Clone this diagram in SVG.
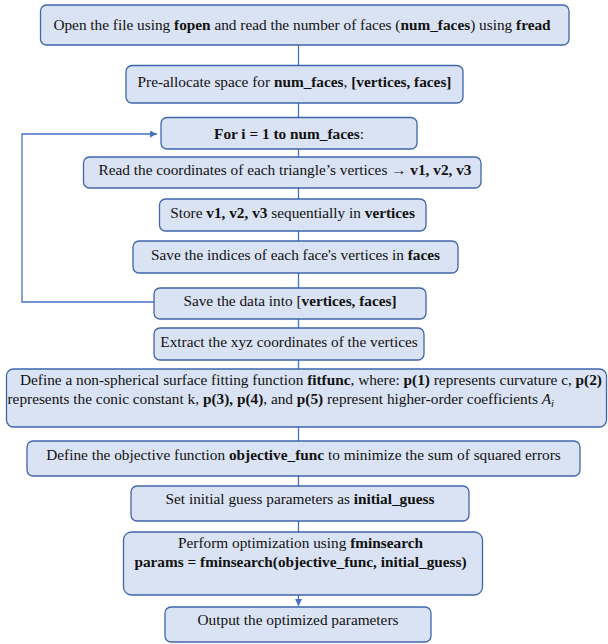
<svg xmlns="http://www.w3.org/2000/svg" width="608" height="644" viewBox="0 0 608 644">
<defs>
<style>
.box{fill:#dae3f3;stroke:#3f66ad;stroke-width:1.3}
.t{font-family:"Liberation Serif","Times New Roman",serif;font-size:15.3px;fill:#111}
.c{text-anchor:middle}
.b{font-weight:bold}
.i{font-style:italic}
.ln{fill:none;stroke:#4472c4;stroke-width:1.3}
</style>
<marker id="ah" viewBox="0 0 10 10" refX="10" refY="5" markerWidth="7" markerHeight="7" markerUnits="userSpaceOnUse" orient="auto">
<path d="M0,0 L10,5 L0,10 z" fill="#4472c4"/>
</marker>
</defs>
<rect width="608" height="644" fill="#ffffff"/>
<g id="connectors">
<path class="ln" d="M298.5,45 V65.5"/>
<path class="ln" d="M298.5,103 V117.5"/>
<path class="ln" d="M298.5,149 V157"/>
<path class="ln" d="M298.5,188 V199"/>
<path class="ln" d="M298.5,231 V241"/>
<path class="ln" d="M298.5,273 V288"/>
<path class="ln" d="M298.5,319 V328"/>
<path class="ln" d="M298.5,360 V369"/>
<path class="ln" d="M298.5,427 V441"/>
<path class="ln" d="M298.5,476 V486"/>
<path class="ln" d="M298.5,521 V532"/>
<path class="ln" d="M298.5,595 V606" marker-end="url(#ah)"/>
<path class="ln" d="M154,302 H22 V134 H157" marker-end="url(#ah)"/>
</g>
<g id="n1"><rect class="box" x="40.5" y="5" width="528.5" height="40" rx="6"/>
<text class="t c" x="302" y="29.5">Open the file using <tspan class="b">fopen</tspan> and read the number of faces (<tspan class="b">num_faces</tspan>) using <tspan class="b">fread</tspan></text></g>
<g id="n2"><rect class="box" x="126" y="65.5" width="337" height="37.5" rx="6"/>
<text class="t c" x="294.5" y="87">Pre-allocate space for <tspan class="b">num_faces</tspan>, <tspan class="b">[vertices, faces]</tspan></text></g>
<g id="n3"><rect class="box" x="161" y="117.5" width="256" height="31.5" rx="6"/>
<text class="t c" x="289" y="139"><tspan class="b">For i = 1 to num_faces</tspan>:</text></g>
<g id="n4"><rect class="box" x="83.5" y="157" width="397.5" height="31" rx="6"/>
<text class="t c" x="285" y="175">Read the coordinates of each triangle’s vertices <tspan class="b">→ v1, v2, v3</tspan></text></g>
<g id="n5"><rect class="box" x="159.5" y="199" width="266.5" height="32" rx="6"/>
<text class="t c" x="292.5" y="217.5">Store <tspan class="b">v1, v2, v3</tspan> sequentially in <tspan class="b">vertices</tspan></text></g>
<g id="n6"><rect class="box" x="133" y="241" width="325" height="32" rx="6"/>
<text class="t c" x="295.5" y="259.5">Save the indices of each face's vertices in <tspan class="b">faces</tspan></text></g>
<g id="n7"><rect class="box" x="154" y="288" width="272" height="31" rx="6"/>
<text class="t c" x="290" y="305.5">Save the data into [<tspan class="b">vertices, faces]</tspan></text></g>
<g id="n8"><rect class="box" x="154" y="328" width="270" height="32" rx="6"/>
<text class="t c" x="289" y="347">Extract the xyz coordinates of the vertices</text></g>
<g id="n9"><rect class="box" x="6.5" y="369" width="600" height="58" rx="7"/>
<text class="t" x="20" y="385">Define a non-spherical surface fitting function <tspan class="b">fitfunc</tspan>, where: <tspan class="b">p(1)</tspan> represents curvature c, <tspan class="b">p(2)</tspan></text>
<text class="t" x="7.5" y="403.5">represents the conic constant k, <tspan class="b">p(3), p(4)</tspan>, and <tspan class="b">p(5)</tspan> represent higher-order coefficients <tspan class="i">A</tspan><tspan class="i" font-size="10.5" dy="3">i</tspan></text></g>
<g id="n10"><rect class="box" x="27" y="441" width="553" height="35" rx="6"/>
<text class="t c" x="303.5" y="460">Define the objective function <tspan class="b">objective_func</tspan> to minimize the sum of squared errors</text></g>
<g id="n11"><rect class="box" x="131" y="486" width="338" height="35" rx="6"/>
<text class="t c" x="300" y="503.5">Set initial guess parameters as <tspan class="b">initial_guess</tspan></text></g>
<g id="n12"><rect class="box" x="123.5" y="532" width="359" height="63" rx="8"/>
<text class="t c" x="300.5" y="547.5">Perform optimization using <tspan class="b">fminsearch</tspan></text>
<text class="t c b" x="300.5" y="566.5">params = fminsearch(objective_func, initial_guess)</text></g>
<g id="n13"><rect class="box" x="165" y="607" width="266" height="35" rx="6"/>
<text class="t c" x="298" y="625">Output the optimized parameters</text></g>
</svg>
